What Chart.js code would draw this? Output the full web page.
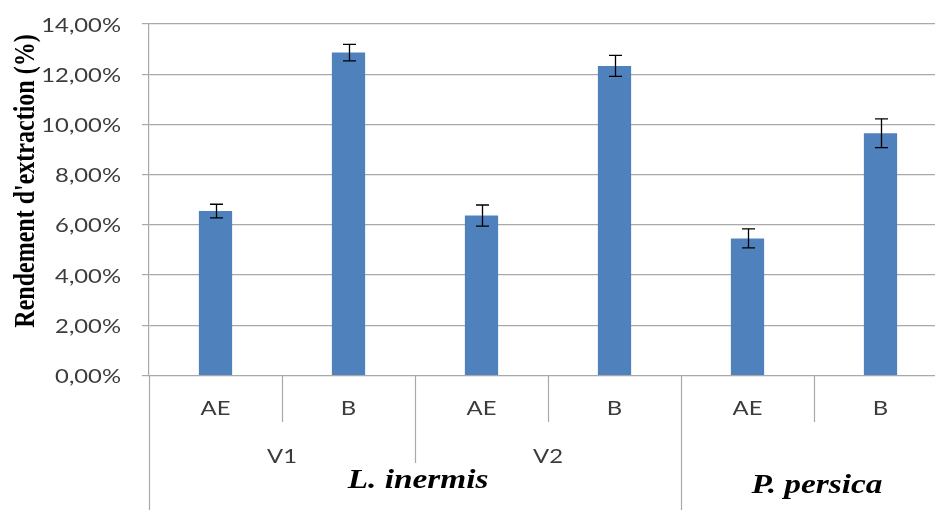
<!DOCTYPE html>
<html>
<head>
<meta charset="utf-8">
<script src="https://cdn.jsdelivr.net/npm/chart.js@4.4.0/dist/chart.umd.min.js"></script>
<style>
html,body{margin:0;padding:0;background:#fff;overflow:hidden;width:935px;height:510px}
#wrap{position:relative;width:950px;height:510px}
</style>
</head>
<body>
<div id="wrap"><canvas id="c"></canvas></div>
<script>
// ---- data ----
const categories = ['AE', 'B', 'AE', 'B', 'AE', 'B'];
const yieldValues = [6.55, 12.86, 6.37, 12.33, 5.46, 9.65];
const errorValues = [0.27, 0.33, 0.42, 0.42, 0.38, 0.57];
const varietyLabels = ['V1', 'V2'];
const varietyFirst = [0, 2];
const varietyLast = [1, 3];
const speciesLabels = ['L. inermis', 'P. persica'];
const speciesFirst = [0, 4];
const speciesLast = [3, 5];
const yMin = 0, yMax = 14, yStep = 2;
const yTitle = "Rendement d'extraction (%)";

// ---- styles ----
const STRETCH = 1.19;
const GRID = '#A9A9A9';
const TICK_FONT = '20px Lato';
const TEXT_COLOR = '#3b3b3b';

function fmt(v) { return v.toFixed(2).replace('.', ',') + '%'; }

function txt(ctx, text, x, y, align, font, color, sx) {
  ctx.save();
  ctx.font = font; ctx.fillStyle = color;
  ctx.textAlign = align; ctx.textBaseline = 'alphabetic';
  ctx.translate(x, y); ctx.scale(sx, 1);
  ctx.fillText(text, 0, 0);
  ctx.restore();
}

const errorBars = {
  id: 'errorBars',
  afterDatasetsDraw(chart) {
    const ctx = chart.ctx, ys = chart.scales.y;
    const meta = chart.getDatasetMeta(0);
    ctx.save();
    ctx.strokeStyle = '#000'; ctx.lineWidth = 1.3;
    meta.data.forEach((bar, i) => {
      const v = yieldValues[i], e = errorValues[i];
      const x = Math.round(bar.x) + 0.5;
      const t = ys.getPixelForValue(v + e), b = ys.getPixelForValue(v - e);
      const w = 6.5;
      ctx.beginPath();
      ctx.moveTo(x, t); ctx.lineTo(x, b);
      ctx.moveTo(x - w, t); ctx.lineTo(x + w, t);
      ctx.moveTo(x - w, b); ctx.lineTo(x + w, b);
      ctx.stroke();
    });
    ctx.restore();
  }
};

const axisText = {
  id: 'axisText',
  afterDraw(chart) {
    const ctx = chart.ctx, xs = chart.scales.x, ys = chart.scales.y, ca = chart.chartArea;
    const H = chart.height;
    const edge = i => {
      if (i < 0) return ca.left;
      if (i >= categories.length - 1) return ca.right;
      return (xs.getPixelForValue(i) + xs.getPixelForValue(i + 1)) / 2;
    };
    // y tick labels
    ys.ticks.forEach(t => {
      const y = ys.getPixelForValue(t.value);
      txt(ctx, fmt(t.value), 121, y + 7.6, 'right', TICK_FONT, TEXT_COLOR, STRETCH);
    });
    // y title
    ctx.save();
    ctx.font = 'bold 24px "Liberation Serif"';
    ctx.fillStyle = '#000';
    ctx.textAlign = 'center'; ctx.textBaseline = 'alphabetic';
    ctx.translate(33.5, 181);
    ctx.rotate(-Math.PI / 2);
    ctx.scale(1, 1.2);
    ctx.fillText(yTitle, 0, 0);
    ctx.restore();

    // separators
    const y0 = ys.getPixelForValue(0);
    ctx.save();
    ctx.strokeStyle = GRID; ctx.lineWidth = 1.2;
    const line = (x, yb) => {
      const xx = Math.round(x) + 0.5;
      ctx.beginPath(); ctx.moveTo(xx, y0); ctx.lineTo(xx, yb); ctx.stroke();
    };
    line(ca.left, H);
    for (let i = 0; i < categories.length - 1; i++) {
      const isSpecies = speciesLast.includes(i);
      const isVariety = varietyLast.includes(i);
      line(edge(i), isSpecies ? H : (isVariety ? 463 : 422));
    }
    ctx.restore();

    // category labels
    categories.forEach((c, i) => {
      txt(ctx, c, xs.getPixelForValue(i), 415, 'center', TICK_FONT, TEXT_COLOR, STRETCH);
    });
    varietyLabels.forEach((v, k) => {
      const cx = (edge(varietyFirst[k] - 1) + edge(varietyLast[k])) / 2;
      txt(ctx, v, cx, 462.5, 'center', TICK_FONT, TEXT_COLOR, STRETCH);
    });
    const spY = [487.5, 492.5];
    speciesLabels.forEach((s, k) => {
      const cx = (edge(speciesFirst[k] - 1) + edge(speciesLast[k])) / 2;
      txt(ctx, s, cx + 3, spY[k], 'center', 'italic bold 28px "Liberation Serif"', '#000', STRETCH);
    });
  }
};

new Chart(document.getElementById('c'), {
  type: 'bar',
  data: {
    labels: categories,
    datasets: [{
      data: yieldValues,
      backgroundColor: '#4F81BD',
      borderWidth: 0,
      barPercentage: 0.25,
      categoryPercentage: 1.0
    }]
  },
  options: {
    responsive: true,
    maintainAspectRatio: false,
    animation: false,
    devicePixelRatio: 1,
    layout: { padding: { top: 24, bottom: 134.5, left: 0, right: 3 } },
    plugins: { legend: { display: false }, tooltip: { enabled: false } },
    scales: {
      x: { display: false, offset: true, grid: { display: false } },
      y: {
        min: yMin, max: yMax,
        ticks: { stepSize: yStep, display: false },
        grid: { color: GRID, lineWidth: 1.2, tickLength: 7, drawTicks: true },
        border: { display: true, color: GRID, width: 1.2 },
        afterFit: s => { s.width = 149; }
      }
    }
  },
  plugins: [errorBars, axisText]
});
</script>
</body>
</html>
